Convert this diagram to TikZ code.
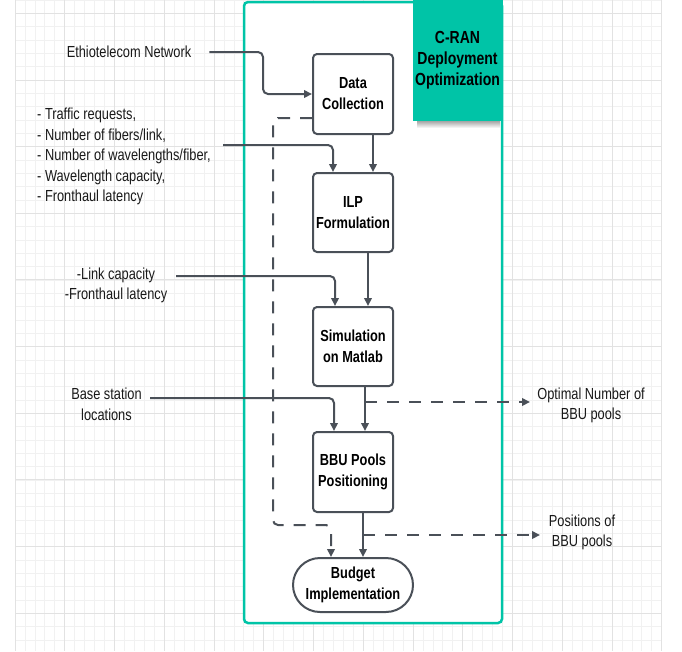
\documentclass[tikz,border=0pt]{standalone}
\usepackage{fontspec}
\setmainfont{Liberation Sans}[FakeStretch=0.8]
\usetikzlibrary{arrows.meta,calc}

\definecolor{tealfill}{RGB}{0,196,167}
\definecolor{ink}{RGB}{74,80,88}
\definecolor{gridminor}{RGB}{241,241,241}
\definecolor{gridmajor}{RGB}{226,226,226}

\begin{document}
\begin{tikzpicture}[x=1pt,y=-1pt,
  conn/.style={draw=ink, line width=2pt, rounded corners=5pt,
    -{Triangle[length=8pt,width=7.5pt]}},
  dashconn/.style={conn, dash pattern=on 12pt off 10pt},
  stepbox/.style={draw=ink, line width=2pt, fill=white, rounded corners=4pt,
    minimum width=80pt, inner sep=0pt, align=center,
    font=\bfseries\fontsize{16}{21}\selectfont},
  lbl/.style={inner sep=0pt, align=center,
    font=\fontsize{16}{20.5}\selectfont, text=black!90}
]
\useasboundingbox (0,0) rectangle (682,651);
\fill[white] (0,0) rectangle (682,651);

% background grid paper
\foreach \i in {0,...,65}
  \draw[gridminor, line width=0.8pt] ({15+\i*9.95},0) -- ({15+\i*9.95},651);
\foreach \j in {0,...,48}
  \draw[gridminor, line width=0.8pt] (15,{\j*13.333}) -- (662,{\j*13.333});
\foreach \i in {0,5,...,65}
  \draw[gridmajor, line width=1pt] ({15+\i*9.95},0) -- ({15+\i*9.95},651);
\foreach \j in {1,6,...,46}
  \draw[gridmajor, line width=1pt] (15,{\j*13.333}) -- (662,{\j*13.333});

% outer frame of the process
\draw[tealfill, line width=2.5pt, fill=white, rounded corners=4pt]
  (244,2) rectangle (502,623);

% soft shadow under the title tab
\shade[top color=black!40, bottom color=white] (417,120) rectangle (500,128);

% title tab
\node[fill=tealfill, minimum width=90pt, minimum height=121pt, inner sep=0pt,
  align=center, font=\bfseries\fontsize{17.5}{21}\selectfont]
  (title) at (457.5,60) {C-RAN\\Deployment\\Optimization};
\draw[tealfill, line width=2.5pt] (502,118) -- (502,130);

% process steps
\node[stepbox, minimum height=80pt] (dc)  at (353,94)    {Data\\Collection};
\node[stepbox, minimum height=79pt] (ilp) at (353,212.5) {ILP\\Formulation};
\node[stepbox, minimum height=79pt] (sim) at (353,346.5) {Simulation\\on Matlab};
\node[stepbox, minimum height=80pt] (bbu) at (353,472)   {BBU Pools\\Positioning};
\node[stepbox, minimum height=54pt, minimum width=120pt, rounded corners=27pt]
  (bud) at (353,585) {Budget\\Implementation};

% input and output labels
\node[lbl] (eth) at (129,52) {Ethiotelecom Network};
\node[lbl, anchor=west, align=left] (params) at (37,156.5)
  {- Traffic requests,\\- Number of fibers/link,\\- Number of wavelengths/fiber,\\- Wavelength capacity,\\- Fronthaul latency};
\node[lbl] (link) at (116,285.5) {-Link capacity\\-Fronthaul latency};
\node[lbl] (base) at (106.5,404.5) {Base station\\locations};
\node[lbl] (opt) at (591,405.5) {Optimal Number of\\BBU pools};
\node[lbl] (pos) at (582,532.5) {Positions of\\BBU pools};

% free ends of the connectors
\coordinate (paramsEnd) at (223,145);
\coordinate (linkEnd) at (176,276);
\coordinate (baseEnd) at (150,398);
\coordinate (fbCorner) at (273,525);
\coordinate (optStart) at (365,402);
\coordinate (optEnd) at (530,402);
\coordinate (posStart) at (363,535);
\coordinate (posEnd) at (540,535);

% connectors
\draw[conn] ([xshift=18pt]eth.east) -| ([xshift=-49pt]dc.west) -- (dc.west);
\draw[conn] (paramsEnd) -| ([xshift=-20pt]ilp.north);
\draw[conn] ([xshift=20pt]dc.south) -- ([xshift=20pt]ilp.north);
\draw[conn] ([xshift=15pt]ilp.south) -- ([xshift=15pt]sim.north);
\draw[conn] (linkEnd) -| ([xshift=-18pt]sim.north);
\draw[conn] ([xshift=12pt]sim.south) -- ([xshift=12pt]bbu.north);
\draw[conn] (baseEnd) -| ([xshift=-19pt]bbu.north);
\draw[conn] ([xshift=10pt]bbu.south) -- ([xshift=10pt]bud.north);
\draw[dashconn] ([yshift=-24pt]dc.west) -| (fbCorner) -| ([xshift=-22pt]bud.north);
\draw[dashconn] (optStart) -- (optEnd);
\draw[dashconn] (posStart) -- (posEnd);
\end{tikzpicture}
\end{document}
